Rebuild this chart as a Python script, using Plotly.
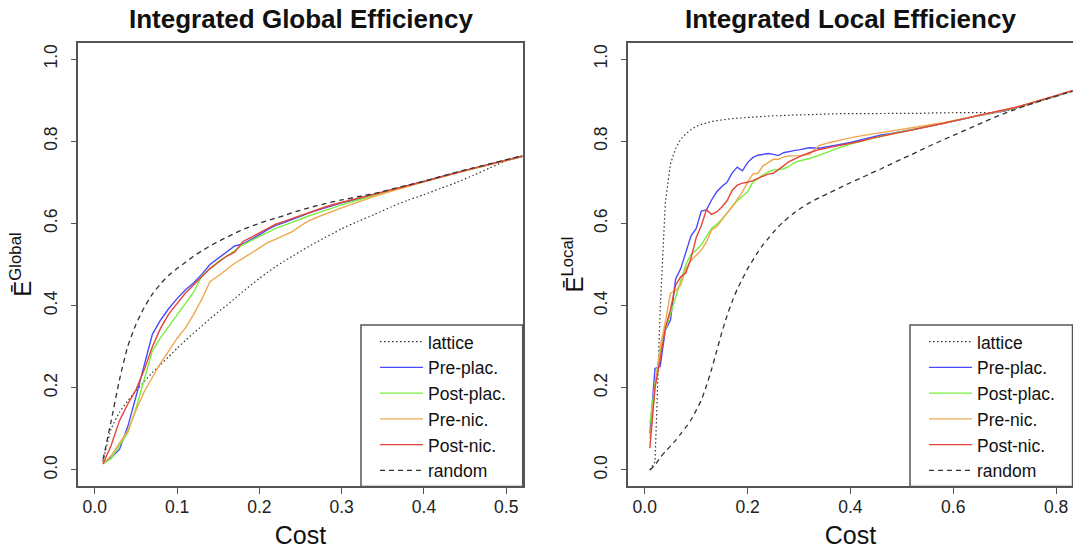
import plotly.graph_objects as go

# ---------------- data ----------------
series_names = ["lattice", "Pre-plac.", "Post-plac.", "Pre-nic.", "Post-nic.", "random"]

cost_global = [0.01, 0.02, 0.03, 0.04, 0.05, 0.06, 0.07, 0.08, 0.09, 0.10,
               0.11, 0.12, 0.13, 0.14, 0.15, 0.16, 0.17, 0.18, 0.19, 0.20,
               0.21, 0.22, 0.23, 0.24, 0.25, 0.26, 0.27, 0.28, 0.29, 0.30,
               0.32, 0.34, 0.36, 0.38, 0.40, 0.42, 0.44, 0.46, 0.48, 0.50, 0.52]

glob_lattice = [0.02, 0.10, 0.14, 0.168, 0.192, 0.215, 0.237, 0.256, 0.276, 0.296,
                0.315, 0.333, 0.35, 0.368, 0.385, 0.40, 0.417, 0.434, 0.45, 0.466,
                0.481, 0.495, 0.508, 0.52, 0.532, 0.544, 0.555, 0.566, 0.576, 0.587,
                0.605, 0.622, 0.64, 0.656, 0.67, 0.685, 0.70, 0.717, 0.735, 0.752, 0.762]
glob_pre_plac = [0.015, 0.03, 0.05, 0.105, 0.178, 0.255, 0.33, 0.365, 0.393, 0.417,
                 0.438, 0.455, 0.476, 0.50, 0.515, 0.53, 0.545, 0.55, 0.56, 0.572,
                 0.585, 0.595, 0.602, 0.61, 0.617, 0.625, 0.632, 0.638, 0.644, 0.65,
                 0.66, 0.67, 0.681, 0.692, 0.702, 0.713, 0.724, 0.734, 0.744, 0.754, 0.764]
glob_post_plac = [0.015, 0.028, 0.06, 0.09, 0.15, 0.22, 0.29, 0.322, 0.35, 0.38,
                  0.405, 0.432, 0.472, 0.49, 0.507, 0.52, 0.535, 0.548, 0.558, 0.568,
                  0.578, 0.588, 0.595, 0.603, 0.61, 0.618, 0.625, 0.632, 0.638, 0.645,
                  0.657, 0.669, 0.68, 0.691, 0.702, 0.713, 0.724, 0.734, 0.744, 0.754, 0.764]
glob_pre_nic = [0.015, 0.035, 0.065, 0.095, 0.145, 0.19, 0.225, 0.26, 0.29, 0.32,
                0.345, 0.378, 0.415, 0.458, 0.472, 0.488, 0.503, 0.515, 0.528, 0.54,
                0.553, 0.562, 0.571, 0.58, 0.594, 0.606, 0.615, 0.623, 0.631, 0.638,
                0.652, 0.666, 0.678, 0.69, 0.701, 0.712, 0.723, 0.733, 0.743, 0.753, 0.763]
glob_post_nic = [0.015, 0.06, 0.12, 0.16, 0.195, 0.243, 0.30, 0.345, 0.38, 0.405,
                 0.43, 0.45, 0.47, 0.49, 0.505, 0.52, 0.53, 0.556, 0.566, 0.576,
                 0.588, 0.598, 0.605, 0.612, 0.619, 0.627, 0.634, 0.64, 0.646, 0.651,
                 0.661, 0.671, 0.681, 0.692, 0.702, 0.713, 0.724, 0.734, 0.744, 0.754, 0.764]
glob_random = [0.025, 0.12, 0.219, 0.30, 0.354, 0.395, 0.428, 0.453, 0.474, 0.49,
               0.505, 0.52, 0.533, 0.545, 0.556, 0.566, 0.576, 0.585, 0.593, 0.60,
               0.607, 0.613, 0.619, 0.626, 0.632, 0.638, 0.643, 0.648, 0.653, 0.657,
               0.665, 0.673, 0.683, 0.693, 0.703, 0.714, 0.725, 0.735, 0.745, 0.755, 0.765]

cost_local = [0.01, 0.02, 0.03, 0.04, 0.05, 0.06, 0.07, 0.08, 0.09, 0.10,
              0.11, 0.12, 0.13, 0.14, 0.15, 0.16, 0.17, 0.18, 0.19, 0.20,
              0.21, 0.22, 0.23, 0.24, 0.25, 0.26, 0.27, 0.28, 0.29, 0.30,
              0.32, 0.34, 0.36, 0.38, 0.40, 0.42, 0.44, 0.46, 0.48, 0.50,
              0.52, 0.54, 0.56, 0.58, 0.60, 0.62, 0.64, 0.66, 0.68, 0.70,
              0.72, 0.74, 0.76, 0.78, 0.80, 0.82, 0.84]

loc_lattice = [0.0, 0.02, 0.39, 0.65, 0.745, 0.782, 0.805, 0.818, 0.828, 0.836,
               0.841, 0.845, 0.848, 0.85, 0.852, 0.854, 0.855, 0.856, 0.857, 0.858,
               0.859, 0.86, 0.86, 0.861, 0.862, 0.862, 0.863, 0.863, 0.864, 0.864,
               0.865, 0.866, 0.866, 0.867, 0.867, 0.867, 0.868, 0.868, 0.868, 0.868,
               0.868, 0.868, 0.869, 0.869, 0.869, 0.869, 0.869, 0.869, 0.87, 0.873,
               0.879, 0.886, 0.894, 0.901, 0.909, 0.917, 0.924]
loc_pre_plac = [0.089, 0.247, 0.252, 0.34, 0.365, 0.465, 0.49, 0.53, 0.57, 0.587,
                0.63, 0.633, 0.657, 0.677, 0.69, 0.70, 0.723, 0.737, 0.728, 0.748,
                0.76, 0.766, 0.768, 0.77, 0.768, 0.765, 0.772, 0.775, 0.777, 0.779,
                0.784, 0.783, 0.787, 0.792, 0.797, 0.803, 0.81, 0.815, 0.819, 0.823,
                0.828, 0.833, 0.838, 0.843, 0.848, 0.854, 0.86, 0.865, 0.869, 0.874,
                0.881, 0.888, 0.895, 0.902, 0.91, 0.918, 0.925]
loc_post_plac = [0.113, 0.21, 0.29, 0.34, 0.38, 0.42, 0.46, 0.50, 0.525, 0.535,
                 0.548, 0.568, 0.588, 0.598, 0.61, 0.625, 0.642, 0.655, 0.665, 0.677,
                 0.70, 0.71, 0.718, 0.725, 0.73, 0.731, 0.733, 0.738, 0.747, 0.752,
                 0.758, 0.766, 0.776, 0.785, 0.793, 0.80, 0.806, 0.812, 0.818, 0.823,
                 0.828, 0.834, 0.839, 0.844, 0.849, 0.855, 0.86, 0.865, 0.87, 0.875,
                 0.881, 0.888, 0.895, 0.902, 0.91, 0.918, 0.925]
loc_pre_nic = [0.077, 0.20, 0.30, 0.36, 0.43, 0.436, 0.45, 0.49, 0.51, 0.522,
               0.535, 0.555, 0.584, 0.592, 0.61, 0.625, 0.64, 0.658, 0.677, 0.70,
               0.72, 0.722, 0.74, 0.748, 0.756, 0.756, 0.762, 0.764, 0.764, 0.765,
               0.768, 0.79, 0.797, 0.803, 0.808, 0.813, 0.817, 0.821, 0.825, 0.828,
               0.832, 0.836, 0.84, 0.845, 0.85, 0.855, 0.861, 0.866, 0.871, 0.876,
               0.882, 0.889, 0.896, 0.903, 0.911, 0.919, 0.926]
loc_post_nic = [0.053, 0.20, 0.27, 0.345, 0.39, 0.45, 0.47, 0.48, 0.515, 0.565,
                0.595, 0.633, 0.622, 0.628, 0.64, 0.655, 0.68, 0.693, 0.698, 0.70,
                0.704, 0.71, 0.715, 0.72, 0.722, 0.73, 0.74, 0.75, 0.756, 0.762,
                0.772, 0.78, 0.785, 0.79, 0.795, 0.80, 0.807, 0.812, 0.817, 0.822,
                0.827, 0.833, 0.838, 0.843, 0.849, 0.855, 0.861, 0.866, 0.871, 0.876,
                0.882, 0.889, 0.896, 0.903, 0.911, 0.919, 0.926]
loc_random = [0.0, 0.012, 0.03, 0.045, 0.058, 0.072, 0.088, 0.104, 0.122, 0.145,
              0.17, 0.205, 0.245, 0.29, 0.335, 0.375, 0.41, 0.44, 0.465, 0.49,
              0.51, 0.53, 0.548, 0.563, 0.578, 0.592, 0.604, 0.615, 0.625, 0.634,
              0.65, 0.663, 0.675, 0.687, 0.699, 0.71, 0.722, 0.733, 0.745, 0.757,
              0.768, 0.78, 0.792, 0.803, 0.814, 0.825, 0.836, 0.847, 0.858, 0.868,
              0.877, 0.886, 0.894, 0.902, 0.91, 0.917, 0.924]

x_ticks_global = [0.0, 0.1, 0.2, 0.3, 0.4, 0.5]
x_ticks_local = [0.0, 0.2, 0.4, 0.6, 0.8]
y_ticks = [0.0, 0.2, 0.4, 0.6, 0.8, 1.0]

# ---------------- styling ----------------
FONT = "Liberation Sans, Arial, Helvetica, sans-serif"
W, H = 1073, 549
styles = [
    dict(color="#333333", width=1.2, dash="1.5px,2.5px"),
    dict(color="#4a4aff", width=1.4, dash="solid"),
    dict(color="#78ee3c", width=1.4, dash="solid"),
    dict(color="#eea850", width=1.4, dash="solid"),
    dict(color="#e4443c", width=1.4, dash="solid"),
    dict(color="#333333", width=1.3, dash="5px,4px"),
]
# smooth only the reference curves of the left panel and the random curve of the right
smooth_global = [True, False, False, False, False, True]
smooth_local = [False, False, False, False, False, True]


def px_x(p):
    return p / W


def px_y(p):
    return 1 - p / H


fig = go.Figure()
glob_series = [glob_lattice, glob_pre_plac, glob_post_plac, glob_pre_nic, glob_post_nic, glob_random]
loc_series = [loc_lattice, loc_pre_plac, loc_post_plac, loc_pre_nic, loc_post_nic, loc_random]

for name, ys, st, sm in zip(series_names, glob_series, styles, smooth_global):
    line = dict(st, shape="spline", smoothing=0.6) if sm else dict(st)
    fig.add_trace(go.Scatter(x=cost_global, y=ys, mode="lines", name=name, line=line,
                             xaxis="x", yaxis="y", legend="legend"))
for name, ys, st, sm in zip(series_names, loc_series, styles, smooth_local):
    line = dict(st, shape="spline", smoothing=0.6) if sm else dict(st)
    fig.add_trace(go.Scatter(x=cost_local, y=ys, mode="lines", name=name, line=line,
                             xaxis="x2", yaxis="y2", legend="legend2"))

# plot areas (pixels)
L1, R1 = 78.3, 522.7
L2, R2 = 628.3, 1072.5
TOP, BOT = 42.6, 486.4

axis_common = dict(showgrid=False, zeroline=False, showline=True, linecolor="#555555",
                   linewidth=1.5, ticks="outside", ticklen=6, tickwidth=1.2,
                   tickcolor="#555555", tickfont=dict(family=FONT, size=17.5, color="#222222"),
                   tickformat=".1f")

xcommon = dict(ticklabelstandoff=-2,
               title=dict(text="Cost", font=dict(size=25, family=FONT), standoff=14))

fig.update_layout(
    width=W, height=H,
    margin=dict(l=0, r=0, t=0, b=0),
    paper_bgcolor="white", plot_bgcolor="white",
    font=dict(family=FONT, color="#111111"),
    xaxis=dict(domain=[px_x(L1), px_x(R1)], range=[-0.02, 0.52], tickvals=x_ticks_global,
               mirror=True, anchor="y", **xcommon, **axis_common),
    yaxis=dict(domain=[px_y(BOT), px_y(TOP)], range=[-0.04, 1.04], tickvals=y_ticks,
               mirror=True, anchor="x", tickangle=-90, ticklabelstandoff=7,
               title=dict(text="Ē<sup>Global</sup>", font=dict(size=24, family=FONT), standoff=2),
               **axis_common),
    xaxis2=dict(domain=[px_x(L2), px_x(R2)], range=[-0.032, 0.832], tickvals=x_ticks_local,
                mirror=True, anchor="y2", **xcommon, **axis_common),
    yaxis2=dict(domain=[px_y(BOT), px_y(TOP)], range=[-0.04, 1.04], tickvals=y_ticks,
                mirror=True, anchor="x2", tickangle=-90, ticklabelstandoff=7,
                title=dict(text="Ē<sup>Local</sup>", font=dict(size=24, family=FONT), standoff=0),
                **axis_common),
    legend=dict(x=px_x(361 + 14), xanchor="left", y=px_y(406.3), yanchor="middle",
                bgcolor="rgba(0,0,0,0)", borderwidth=0, itemwidth=43,
                font=dict(family=FONT, size=17.5, color="#111111"), tracegroupgap=0),
    legend2=dict(x=px_x(910 + 14), xanchor="left", y=px_y(406.3), yanchor="middle",
                 bgcolor="rgba(0,0,0,0)", borderwidth=0, itemwidth=43,
                 font=dict(family=FONT, size=17.5, color="#111111"), tracegroupgap=0),
    showlegend=True,
)

# legend frames
for x0, x1 in [(361, R1), (910, R2)]:
    fig.add_shape(type="rect", xref="paper", yref="paper",
                  x0=px_x(x0), x1=px_x(x1), y0=px_y(BOT), y1=px_y(325),
                  line=dict(color="#555555", width=1.5), fillcolor="rgba(0,0,0,0)")

# panel titles
for cx, txt in [((L1 + R1) / 2, "Integrated Global Efficiency"),
                ((L2 + R2) / 2, "Integrated Local Efficiency")]:
    fig.add_annotation(text="<b>" + txt + "</b>", xref="paper", yref="paper",
                       x=px_x(cx), y=px_y(19), xanchor="center", yanchor="middle",
                       showarrow=False, font=dict(family=FONT, size=26, color="#111111"))

fig.write_html("out.html", config={"displayModeBar": False},
               post_script="document.body.style.margin='0';")
